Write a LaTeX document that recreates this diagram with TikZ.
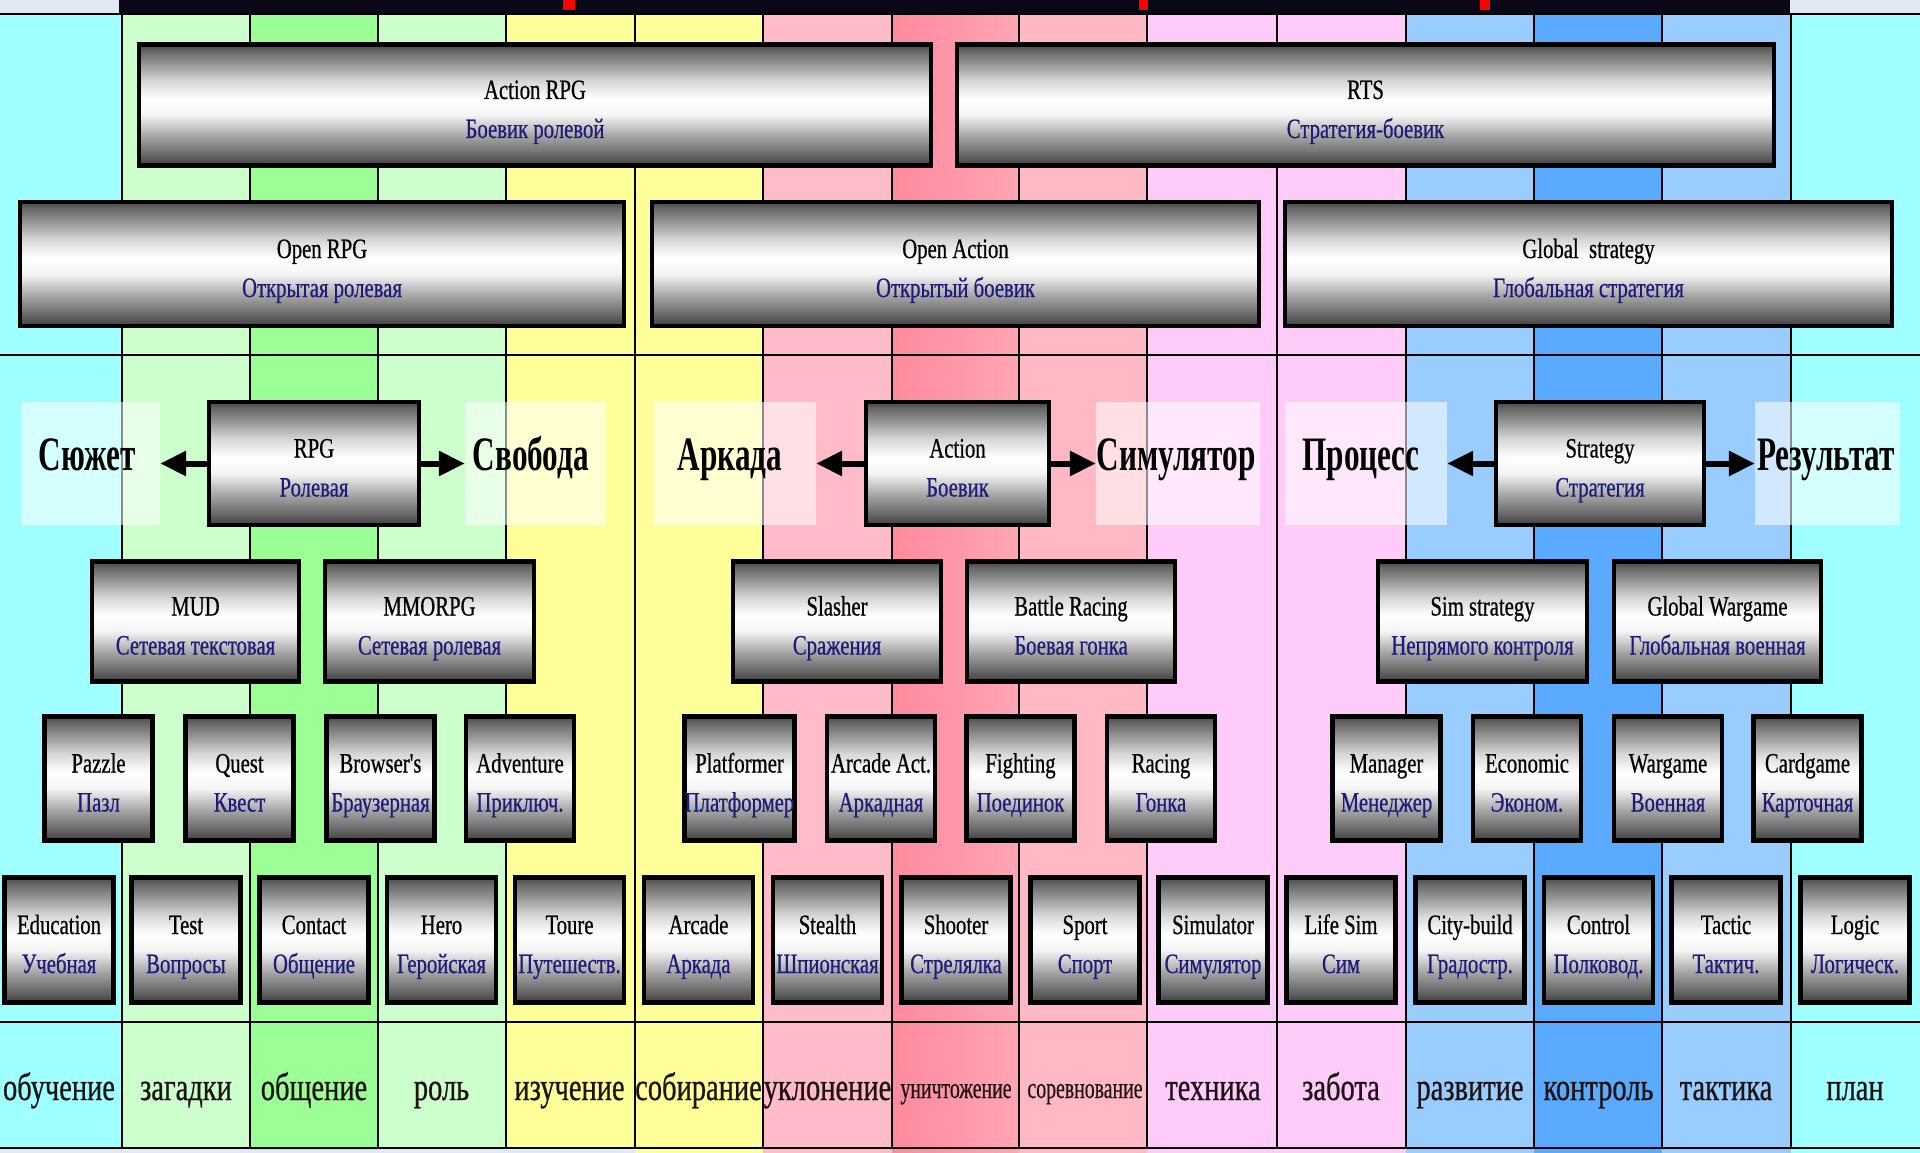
\documentclass[tikz,border=0pt]{standalone}
\usepackage{fontspec}
\setmainfont{Liberation Serif}
\newfontfamily\boxfont[FakeStretch=0.74,FakeBold=0.6]{Liberation Serif}
\newfontfamily\labfont[FakeStretch=0.73,FakeBold=0.6]{Liberation Serif}
\newfontfamily\tinylabfont[FakeStretch=0.66,FakeBold=0.5]{Liberation Serif}
\newfontfamily\bigfont[FakeStretch=0.65]{Liberation Serif}
\usetikzlibrary{arrows.meta}

\definecolor{slidebg}{RGB}{226,232,246}
\definecolor{barcol}{RGB}{10,8,22}
\definecolor{ccyan}{RGB}{160,255,255}
\definecolor{clg}{RGB}{204,255,204}
\definecolor{cg}{RGB}{155,255,150}
\definecolor{cy}{RGB}{255,255,153}
\definecolor{cpk}{RGB}{255,187,200}
\definecolor{crdA}{RGB}{255,138,158}
\definecolor{crdB}{RGB}{255,165,180}
\definecolor{cpkB}{RGB}{255,184,196}
\definecolor{cmg}{RGB}{255,204,250}
\definecolor{clb}{RGB}{153,204,255}
\definecolor{cbl}{RGB}{90,170,255}
\definecolor{navytxt}{RGB}{30,28,120}
\definecolor{labtxt}{RGB}{30,20,22}

\pgfdeclareverticalshading{boxshade}{100bp}{%
  color(0bp)=(black!75); color(25bp)=(black!75); color(30bp)=(black!58);
  color(37.5bp)=(black!34); color(46bp)=(black!4); color(52.5bp)=(white);
  color(60bp)=(black!16); color(67.5bp)=(black!43); color(72.5bp)=(black!60);
  color(75bp)=(black!72); color(100bp)=(black!72)}

\newcommand\gtwo[2]{\rule{0pt}{35pt}#1\\\textcolor{navytxt}{#2}\rule[-8pt]{0pt}{8pt}}

\begin{document}
\begin{tikzpicture}[x=1pt,y=-1pt,
  gline/.style={draw=black, line width=2pt},
  gbox/.style={draw=black, line width=4.5pt, shade, shading=boxshade, inner sep=0pt,
    align=center, text=black, font=\boxfont\fontsize{28pt}{39pt}\selectfont},
  wideA/.style={gbox, minimum height=121pt},
  rowtwo/.style={gbox, minimum height=120pt},
  rowthree/.style={gbox, minimum width=108pt, minimum height=124pt},
  rowfour/.style={gbox, minimum width=109pt, minimum height=125pt},
  lbg/.style={fill=white, fill opacity=0.55, draw=none, inner sep=0pt, minimum height=123pt},
  bigtxt/.style={anchor=base, inner sep=0pt, text=black, font=\bigfont\bfseries\fontsize{48pt}{48pt}\selectfont},
  btxt/.style={anchor=base, inner sep=0pt, text=labtxt, font=\labfont\fontsize{39pt}{39pt}\selectfont},
  bsmall/.style={anchor=base, inner sep=0pt, text=labtxt, font=\tinylabfont\fontsize{30pt}{30pt}\selectfont},
  arr/.style={draw=black, line width=6pt, -{Triangle[length=26pt,width=24pt]}}
]
\useasboundingbox (0,0) rectangle (1920,1153);
% slide background
\fill[slidebg] (0,0) rectangle (1920,1153);
% columns
\foreach \a/\b/\c in {0/122/ccyan,122/250/clg,250/378/cg,378/506/clg,506/635/cy,635/763/cy,
  763/892/cpk,1019/1147/cpkB,1147/1277/cmg,1277/1406/cmg,1406/1534/clb,1534/1662/cbl,
  1662/1791/clb,1791/1920/ccyan}
  \fill[\c] (\a,13) rectangle (\b,1153);
\shade[left color=crdA, right color=crdB] (892,13) rectangle (1019,1153);
\fill[slidebg] (0,1150) rectangle (635,1153);
% title bar
\fill[barcol] (119,0) rectangle (1790,13);
\fill[red] (563,0) rectangle (575,10);
\fill[red] (1139,0) rectangle (1148,10);
\fill[red] (1480,0) rectangle (1490,10);
% grid
\foreach \x in {122,250,378,506,635,763,892,1019,1147,1277,1406,1534,1662,1791}
  \draw[gline] (\x,13) -- (\x,1149);
\foreach \y in {14,355,1022,1148}
  \draw[gline] (0,\y) -- (1920,\y);

% label backgrounds
\node[lbg, minimum width=139pt] (lbSuzhet) at (90.5,463.5) {};
\node[lbg, minimum width=141pt] (lbSvoboda) at (535.5,463.5) {};
\node[lbg, minimum width=162pt] (lbArkada) at (735,463.5) {};
\node[lbg, minimum width=164pt] (lbSimul) at (1178,463.5) {};
\node[lbg, minimum width=162pt] (lbProcess) at (1366,463.5) {};
\node[lbg, minimum width=145pt] (lbResult) at (1827.5,463.5) {};

% top boxes
\node[wideA, minimum width=792pt] (arpg) at (535,105) {\gtwo{Action RPG}{Боевик ролевой}};
\node[wideA, minimum width=817pt] (rts) at (1365.5,105) {\gtwo{RTS}{Стратегия-боевик}};
\node[gbox, minimum width=604pt, minimum height=124pt] (orpg) at (322,264) {\gtwo{Open RPG}{Открытая ролевая}};
\node[gbox, minimum width=607pt, minimum height=124pt] (oact) at (955.5,264) {\gtwo{Open Action}{Открытый боевик}};
\node[gbox, minimum width=607pt, minimum height=124pt] (gstr) at (1588.5,264) {\gtwo{Global~ strategy}{Глобальная стратегия}};

% middle main boxes
\node[gbox, minimum width=210pt, minimum height=123pt] (rpg) at (314,463.5) {\gtwo{RPG}{Ролевая}};
\node[gbox, minimum width=183pt, minimum height=123pt] (act) at (957.5,463.5) {\gtwo{Action}{Боевик}};
\node[gbox, minimum width=208pt, minimum height=123pt] (str) at (1600,463.5) {\gtwo{Strategy}{Стратегия}};

% row two
\node[rowtwo, minimum width=207pt] (mud) at (195.5,621.5) {\gtwo{MUD}{Сетевая текстовая}};
\node[rowtwo, minimum width=209pt] (mmo) at (429.5,621.5) {\gtwo{MMORPG}{Сетевая ролевая}};
\node[rowtwo, minimum width=208pt] (slash) at (837,621.5) {\gtwo{Slasher}{Сражения}};
\node[rowtwo, minimum width=208pt] (brace) at (1071,621.5) {\gtwo{Battle Racing}{Боевая гонка}};
\node[rowtwo, minimum width=209pt] (sims) at (1482.5,621.5) {\gtwo{Sim strategy}{Непрямого контроля}};
\node[rowtwo, minimum width=207pt] (gwar) at (1717.5,621.5) {\gtwo{Global Wargame}{Глобальная военная}};

% row three
\node[rowthree] (pazzle) at (98.5,778.5) {\gtwo{Pazzle}{Пазл}};
\node[rowthree] (quest) at (239.5,778.5) {\gtwo{Quest}{Квест}};
\node[rowthree] (browser) at (380.5,778.5) {\gtwo{Browser's}{Браузерная}};
\node[rowthree] (advent) at (520,778.5) {\gtwo{Adventure}{Приключ.}};
\node[rowthree] (platf) at (739.5,778.5) {\gtwo{Platformer}{Платформер}};
\node[rowthree] (arcact) at (881,778.5) {\gtwo{Arcade Act.}{Аркадная}};
\node[rowthree] (fight) at (1020.5,778.5) {\gtwo{Fighting}{Поединок}};
\node[rowthree] (racing) at (1161,778.5) {\gtwo{Racing}{Гонка}};
\node[rowthree] (manager) at (1386.5,778.5) {\gtwo{Manager}{Менеджер}};
\node[rowthree] (econ) at (1527,778.5) {\gtwo{Economic}{Эконом.}};
\node[rowthree] (wargame) at (1668,778.5) {\gtwo{Wargame}{Военная}};
\node[rowthree] (cardg) at (1807.5,778.5) {\gtwo{Cardgame}{Карточная}};

% row four
\node[rowfour] (educ) at (59,940) {\gtwo{Education}{Учебная}};
\node[rowfour] (test) at (186,940) {\gtwo{Test}{Вопросы}};
\node[rowfour] (contact) at (314,940) {\gtwo{Contact}{Общение}};
\node[rowfour] (hero) at (441.5,940) {\gtwo{Hero}{Геройская}};
\node[rowfour] (toure) at (569.5,940) {\gtwo{Toure}{Путешеств.}};
\node[rowfour] (arcade) at (698.5,940) {\gtwo{Arcade}{Аркада}};
\node[rowfour] (stealth) at (827.5,940) {\gtwo{Stealth}{Шпионская}};
\node[rowfour] (shooter) at (956,940) {\gtwo{Shooter}{Стрелялка}};
\node[rowfour] (sport) at (1085,940) {\gtwo{Sport}{Спорт}};
\node[rowfour] (simul) at (1213,940) {\gtwo{Simulator}{Симулятор}};
\node[rowfour] (lifesim) at (1341,940) {\gtwo{Life Sim}{Сим}};
\node[rowfour] (city) at (1470,940) {\gtwo{City-build}{Градостр.}};
\node[rowfour] (control) at (1598.5,940) {\gtwo{Control}{Полковод.}};
\node[rowfour] (tactic) at (1726,940) {\gtwo{Tactic}{Тактич.}};
\node[rowfour] (logic) at (1855,940) {\gtwo{Logic}{Логическ.}};

% arrows
\draw[arr] (rpg.west) -- (lbSuzhet.east);
\draw[arr] (rpg.east) -- (lbSvoboda.west);
\draw[arr] (act.west) -- (lbArkada.east);
\draw[arr] (act.east) -- (lbSimul.west);
\draw[arr] (str.west) -- (lbProcess.east);
\draw[arr] (str.east) -- (lbResult.west);

% big labels
\node[bigtxt] (tSuzhet) at (87,470) {Сюжет};
\node[bigtxt] (tSvoboda) at (531,470) {Свобода};
\node[bigtxt] (tArkada) at (730,470) {Аркада};
\node[bigtxt] (tSimul) at (1176,470) {Симулятор};
\node[bigtxt] (tProcess) at (1361,470) {Процесс};
\node[bigtxt] (tResult) at (1826,470) {Результат};

% bottom labels
\node[btxt] (b0) at (59,1100) {обучение};
\node[btxt] (b1) at (186,1100) {загадки};
\node[btxt] (b2) at (314,1100) {общение};
\node[btxt] (b3) at (441.5,1100) {роль};
\node[btxt] (b4) at (569.5,1100) {изучение};
\node[btxt] (b5) at (698.5,1100) {собирание};
\node[btxt] (b6) at (827.5,1100) {уклонение};
\node[bsmall] (b7) at (956,1098) {уничтожение};
\node[bsmall] (b8) at (1085,1098) {соревнование};
\node[btxt] (b9) at (1213,1100) {техника};
\node[btxt] (b10) at (1341,1100) {забота};
\node[btxt] (b11) at (1470,1100) {развитие};
\node[btxt] (b12) at (1598.5,1100) {контроль};
\node[btxt] (b13) at (1726,1100) {тактика};
\node[btxt] (b14) at (1855,1100) {план};
\end{tikzpicture}
\end{document}
